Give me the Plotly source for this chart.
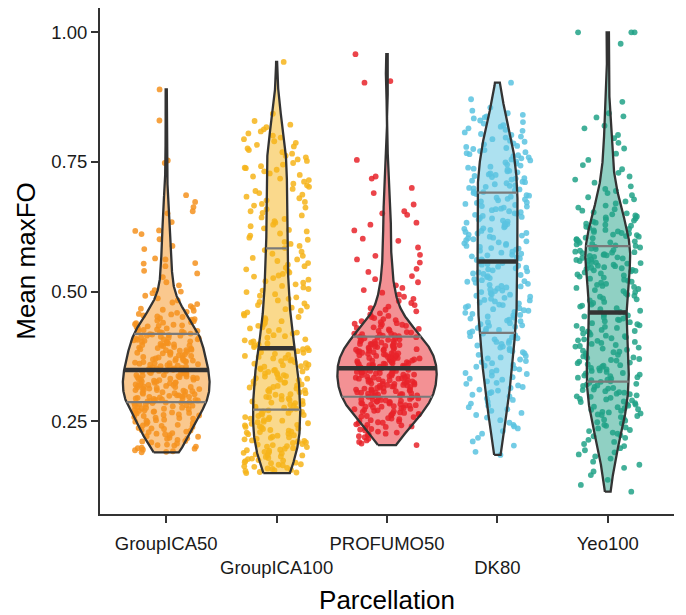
import numpy as np
import plotly.graph_objects as go

# ---------------- data ----------------
categories = ["GroupICA50", "GroupICA100", "PROFUMO50", "DK80", "Yeo100"]
tick_labels = ["GroupICA50", "<br>GroupICA100", "PROFUMO50", "<br>DK80", "Yeo100"]
y_tick_values = [0.25, 0.50, 0.75, 1.00]
y_tick_labels = ["0.25", "0.50", "0.75", "1.00"]

groupica50 = [
    0.190, 0.191, 0.192, 0.194, 0.195, 0.197, 0.198, 0.199, 0.201, 0.203, 0.204, 0.205, 0.207, 0.209,
    0.211, 0.212, 0.214, 0.216, 0.217, 0.218, 0.220, 0.221, 0.223, 0.225, 0.226, 0.227, 0.229,
    0.230, 0.232, 0.233, 0.235, 0.236, 0.237, 0.239, 0.241, 0.242, 0.243, 0.245, 0.246, 0.248, 0.249,
    0.251, 0.252, 0.253, 0.255, 0.256, 0.257, 0.258, 0.260, 0.261, 0.262, 0.263, 0.265, 0.266, 0.266, 0.267, 0.268, 0.269,
    0.270, 0.271, 0.272, 0.273, 0.274, 0.275, 0.276, 0.276, 0.277, 0.279, 0.280, 0.280, 0.281, 0.282, 0.283, 0.284,
    0.285, 0.286, 0.286, 0.287, 0.288, 0.289, 0.289,
    0.290, 0.291, 0.291, 0.292, 0.293, 0.294, 0.294, 0.295, 0.296, 0.297, 0.297, 0.298, 0.299, 0.300, 0.300,
    0.301, 0.302, 0.303, 0.304, 0.305, 0.306, 0.307, 0.308, 0.309,
    0.310, 0.310, 0.311, 0.312, 0.313, 0.313, 0.314, 0.315, 0.316, 0.316, 0.317, 0.318, 0.319, 0.320, 0.320,
    0.321, 0.322, 0.323, 0.324, 0.324, 0.325, 0.326, 0.327, 0.328, 0.329,
    0.330, 0.331, 0.331, 0.332, 0.333, 0.334, 0.335, 0.335, 0.336, 0.337, 0.338, 0.339, 0.339, 0.340, 0.341,
    0.342, 0.343, 0.343, 0.344, 0.345, 0.346, 0.347, 0.347, 0.348, 0.349,
    0.350, 0.351, 0.352, 0.352, 0.353, 0.354, 0.355, 0.356, 0.357, 0.357, 0.358, 0.359, 0.360, 0.361, 0.362,
    0.362, 0.363, 0.364, 0.365, 0.366, 0.367, 0.367, 0.368, 0.369,
    0.370, 0.371, 0.372, 0.373, 0.374, 0.376, 0.377, 0.377, 0.378, 0.379, 0.381, 0.382, 0.382, 0.383, 0.384,
    0.386, 0.387, 0.387, 0.388, 0.389,
    0.390, 0.391, 0.392, 0.393, 0.395, 0.396, 0.396, 0.397, 0.398, 0.399, 0.400, 0.401, 0.403, 0.403, 0.404,
    0.405, 0.406, 0.407, 0.408, 0.408, 0.409,
    0.410, 0.411, 0.412, 0.413, 0.415, 0.415, 0.416, 0.417, 0.418, 0.419, 0.421, 0.421, 0.422, 0.423, 0.424,
    0.425, 0.426, 0.427, 0.429,
    0.430, 0.431, 0.433, 0.434, 0.435, 0.436, 0.437, 0.439, 0.440, 0.441, 0.443, 0.444, 0.446, 0.447, 0.449,
    0.451, 0.452, 0.454, 0.456, 0.457, 0.459, 0.461, 0.463, 0.465, 0.467, 0.469,
    0.472, 0.476, 0.479, 0.483, 0.487,
    0.492, 0.497, 0.500, 0.503,
    0.512, 0.518, 0.528, 0.535, 0.540, 0.549,
    0.554, 0.555, 0.562, 0.564, 0.582, 0.588,
    0.601, 0.611, 0.617, 0.618, 0.634,
    0.651, 0.655, 0.663, 0.673, 0.686,
    0.748, 0.753, 0.830, 0.890,
]

groupica100 = [
    0.150, 0.151, 0.152, 0.154, 0.155, 0.156, 0.158, 0.159, 0.160, 0.162, 0.163, 0.165, 0.166, 0.167, 0.169,
    0.170, 0.171, 0.173, 0.174, 0.175, 0.177, 0.178, 0.179, 0.181, 0.182, 0.184, 0.185, 0.186, 0.188, 0.189,
    0.190, 0.191, 0.193, 0.194, 0.195, 0.197, 0.198, 0.200, 0.201, 0.202, 0.204, 0.205, 0.206, 0.208, 0.209,
    0.211, 0.212, 0.213, 0.215, 0.216, 0.218, 0.219, 0.220, 0.222, 0.223, 0.225, 0.226, 0.228, 0.229,
    0.230, 0.232, 0.233, 0.235, 0.236, 0.238, 0.239, 0.240, 0.242, 0.243, 0.245, 0.246, 0.248, 0.249,
    0.251, 0.252, 0.254, 0.255, 0.257, 0.258, 0.260, 0.262, 0.263, 0.265, 0.266, 0.268, 0.269,
    0.271, 0.272, 0.274, 0.276, 0.277, 0.278, 0.280, 0.282, 0.283, 0.285, 0.286, 0.288, 0.289,
    0.291, 0.292, 0.294, 0.296, 0.297, 0.299, 0.301, 0.302, 0.304, 0.306, 0.307, 0.309,
    0.310, 0.312, 0.313, 0.315, 0.316, 0.318, 0.319, 0.321, 0.322, 0.324, 0.325, 0.327, 0.329,
    0.330, 0.332, 0.333, 0.334, 0.336, 0.337, 0.339, 0.340, 0.342, 0.343, 0.345, 0.346, 0.348, 0.349,
    0.350, 0.352, 0.353, 0.355, 0.356, 0.358, 0.359, 0.361, 0.362, 0.364, 0.366, 0.367, 0.369,
    0.371, 0.372, 0.374, 0.376, 0.378, 0.380, 0.382, 0.383, 0.385, 0.387, 0.389,
    0.391, 0.393, 0.396, 0.398, 0.400, 0.402, 0.404, 0.406, 0.408,
    0.411, 0.414, 0.416, 0.419, 0.421, 0.424, 0.426, 0.429,
    0.431, 0.434, 0.437, 0.440, 0.443, 0.446, 0.449,
    0.451, 0.454, 0.457, 0.460, 0.463, 0.466, 0.469,
    0.471, 0.474, 0.477, 0.480, 0.483, 0.486, 0.489,
    0.492, 0.495, 0.499, 0.502, 0.505, 0.508,
    0.511, 0.514, 0.517, 0.520, 0.523, 0.526, 0.529,
    0.531, 0.534, 0.537, 0.540, 0.543, 0.546, 0.549,
    0.552, 0.555, 0.559, 0.562, 0.565, 0.569,
    0.573, 0.577, 0.580, 0.584, 0.588,
    0.592, 0.596, 0.600, 0.604, 0.608,
    0.612, 0.616, 0.619, 0.622, 0.626, 0.629, 0.633, 0.636, 0.640, 0.643, 0.647,
    0.652, 0.655, 0.659, 0.662, 0.666, 0.669, 0.673, 0.676, 0.680, 0.683, 0.687, 0.690, 0.694, 0.698,
    0.702, 0.705, 0.708, 0.712, 0.715, 0.718, 0.722, 0.725, 0.728, 0.732, 0.735, 0.738, 0.739, 0.742, 0.745, 0.748,
    0.752, 0.755, 0.759, 0.762, 0.766, 0.769, 0.773, 0.776, 0.780, 0.783, 0.787, 0.790, 0.794, 0.797,
    0.801, 0.805, 0.809, 0.813, 0.817, 0.822, 0.829, 0.843,
    0.943,
]

profumo50 = [
    0.204, 0.207, 0.210, 0.213, 0.216, 0.219,
    0.221, 0.223, 0.225, 0.226, 0.228, 0.230, 0.232, 0.234, 0.235, 0.237, 0.239,
    0.240, 0.242, 0.243, 0.244, 0.246, 0.247, 0.248, 0.250, 0.251, 0.252, 0.254, 0.255, 0.256, 0.258, 0.259,
    0.260, 0.261, 0.262, 0.263, 0.264, 0.265, 0.266, 0.267, 0.268, 0.269, 0.270, 0.271, 0.272, 0.273, 0.274,
    0.275, 0.276, 0.277, 0.278, 0.278, 0.279,
    0.280, 0.281, 0.281, 0.282, 0.283, 0.284, 0.284, 0.285, 0.286, 0.287, 0.288, 0.288, 0.289, 0.290, 0.291,
    0.292, 0.292, 0.293, 0.294, 0.295, 0.296, 0.296, 0.297, 0.298, 0.299,
    0.300, 0.300, 0.301, 0.302, 0.302, 0.303, 0.304, 0.305, 0.305, 0.306, 0.307, 0.308, 0.308, 0.309, 0.310,
    0.311, 0.311, 0.312, 0.313, 0.314, 0.314, 0.315, 0.316, 0.317, 0.317, 0.318, 0.319,
    0.320, 0.320, 0.321, 0.322, 0.322, 0.323, 0.324, 0.324, 0.325, 0.326, 0.327, 0.327, 0.328, 0.329, 0.329,
    0.330, 0.331, 0.332, 0.332, 0.333, 0.334, 0.334, 0.335, 0.336, 0.337, 0.337, 0.338, 0.339,
    0.340, 0.340, 0.341, 0.342, 0.342, 0.343, 0.344, 0.344, 0.345, 0.346, 0.347, 0.347, 0.348, 0.349, 0.349,
    0.350, 0.351, 0.352, 0.352, 0.353, 0.354, 0.354, 0.355, 0.356, 0.357, 0.357, 0.358, 0.359,
    0.360, 0.360, 0.361, 0.362, 0.362, 0.363, 0.364, 0.364, 0.365, 0.366, 0.367, 0.367, 0.368, 0.369, 0.369,
    0.370, 0.371, 0.372, 0.372, 0.373, 0.374, 0.374, 0.375, 0.376, 0.377, 0.377, 0.378, 0.379,
    0.380, 0.381, 0.381, 0.382, 0.383, 0.384, 0.384, 0.385, 0.386, 0.387, 0.388, 0.388, 0.389,
    0.390, 0.391, 0.392, 0.392, 0.393, 0.394, 0.395, 0.396, 0.396, 0.397, 0.398, 0.399, 0.399,
    0.400, 0.401, 0.402, 0.403, 0.404, 0.405, 0.406, 0.407, 0.408, 0.409, 0.410,
    0.411, 0.412, 0.413, 0.414, 0.415, 0.416, 0.417, 0.418, 0.419, 0.419,
    0.421, 0.422, 0.424, 0.425, 0.427, 0.428, 0.430, 0.431, 0.433, 0.434, 0.436, 0.437, 0.438, 0.439,
    0.441, 0.443, 0.445, 0.447, 0.449, 0.451, 0.453, 0.456, 0.458,
    0.462, 0.465, 0.468, 0.471, 0.474, 0.478,
    0.482, 0.486, 0.490, 0.494, 0.498,
    0.503, 0.507, 0.512, 0.518, 0.524, 0.530, 0.538, 0.544,
    0.556, 0.562, 0.569, 0.571, 0.585, 0.598,
    0.602, 0.618, 0.629, 0.633, 0.648, 0.651,
    0.655, 0.668, 0.690, 0.700, 0.718,
    0.722, 0.754, 0.903, 0.906, 0.958,
]

dk80 = [
    0.185, 0.191, 0.203, 0.211, 0.218,
    0.226, 0.231, 0.236, 0.240, 0.243, 0.247, 0.252, 0.257,
    0.262, 0.266, 0.270, 0.273, 0.277, 0.280, 0.284, 0.287, 0.291, 0.294, 0.298,
    0.301, 0.304, 0.306, 0.309, 0.311, 0.314, 0.316, 0.319, 0.322, 0.324, 0.327, 0.330, 0.332, 0.335, 0.338,
    0.341, 0.343, 0.345, 0.348, 0.350, 0.352, 0.355, 0.357, 0.359, 0.362, 0.364, 0.366, 0.369, 0.371, 0.373,
    0.376, 0.378,
    0.381, 0.383, 0.385, 0.387, 0.390, 0.392, 0.394, 0.396, 0.399, 0.401, 0.403, 0.405, 0.408, 0.410, 0.412,
    0.414, 0.416, 0.419,
    0.421, 0.423, 0.424, 0.426, 0.428, 0.430, 0.432, 0.434, 0.435, 0.437, 0.439, 0.441, 0.443, 0.444, 0.446,
    0.448, 0.450, 0.452, 0.454, 0.455, 0.457, 0.459,
    0.461, 0.463, 0.464, 0.466, 0.468, 0.470, 0.472, 0.474, 0.475, 0.477, 0.479, 0.481, 0.483, 0.484, 0.486,
    0.488, 0.490, 0.492, 0.494, 0.495, 0.497, 0.499,
    0.501, 0.502, 0.504, 0.506, 0.508, 0.510, 0.511, 0.513, 0.515, 0.517, 0.519, 0.520, 0.522, 0.524, 0.526,
    0.528, 0.530, 0.532, 0.534, 0.535, 0.537, 0.539,
    0.541, 0.543, 0.545, 0.546, 0.548, 0.550, 0.552, 0.553, 0.555, 0.557, 0.559, 0.561, 0.562, 0.564, 0.566,
    0.568, 0.570, 0.571, 0.573, 0.575, 0.577, 0.579,
    0.581, 0.583, 0.584, 0.586, 0.588, 0.590, 0.592, 0.593, 0.595, 0.597, 0.599, 0.601, 0.603, 0.604, 0.606,
    0.608, 0.610, 0.612, 0.613, 0.615, 0.617, 0.619,
    0.621, 0.622, 0.624, 0.626, 0.628, 0.630, 0.631, 0.633, 0.635, 0.637, 0.639, 0.641, 0.642, 0.644, 0.646,
    0.648, 0.650, 0.651, 0.653, 0.655, 0.657, 0.659,
    0.660, 0.662, 0.664, 0.665, 0.667, 0.669, 0.671, 0.672, 0.674, 0.676, 0.678, 0.679, 0.681, 0.683, 0.685,
    0.686, 0.688, 0.690, 0.692, 0.693, 0.695, 0.697, 0.699,
    0.700, 0.702, 0.704, 0.705, 0.707, 0.709, 0.711, 0.712, 0.714, 0.716, 0.718, 0.719, 0.721, 0.723, 0.725,
    0.726, 0.728, 0.730, 0.732, 0.733, 0.735, 0.737, 0.739,
    0.741, 0.743, 0.745, 0.747, 0.749, 0.751, 0.753, 0.755, 0.757, 0.759, 0.761, 0.763, 0.765, 0.767, 0.769,
    0.771, 0.773, 0.775, 0.777, 0.779,
    0.781, 0.784, 0.786, 0.789, 0.791, 0.794, 0.797, 0.799, 0.802, 0.804, 0.807, 0.810, 0.812, 0.815, 0.818,
    0.821, 0.824, 0.827, 0.830, 0.834, 0.836, 0.838, 0.841, 0.844, 0.849, 0.855,
    0.871, 0.903,
]

yeo100 = [
    0.114, 0.127, 0.137,
    0.146, 0.153, 0.160, 0.166, 0.172, 0.178,
    0.182, 0.186, 0.190, 0.194, 0.198, 0.202, 0.206, 0.210, 0.214, 0.218,
    0.221, 0.223, 0.226, 0.228, 0.231, 0.233, 0.236, 0.238, 0.241, 0.243, 0.246, 0.248, 0.251, 0.253, 0.256,
    0.258,
    0.260, 0.262, 0.263, 0.265, 0.267, 0.268, 0.270, 0.272, 0.273, 0.275, 0.277, 0.278, 0.280, 0.282, 0.283,
    0.285, 0.287, 0.288, 0.290, 0.292, 0.293, 0.295, 0.297, 0.298,
    0.300, 0.302, 0.303, 0.305, 0.306, 0.308, 0.310, 0.311, 0.313, 0.314, 0.316, 0.318, 0.319, 0.321, 0.322,
    0.324, 0.326, 0.327, 0.329, 0.330, 0.332, 0.334, 0.335, 0.337, 0.338,
    0.340, 0.342, 0.343, 0.345, 0.347, 0.348, 0.350, 0.352, 0.353, 0.355, 0.357, 0.358, 0.360, 0.362, 0.363,
    0.365, 0.367, 0.368, 0.370, 0.372, 0.373, 0.375, 0.377, 0.378,
    0.381, 0.383, 0.384, 0.386, 0.388, 0.390, 0.392, 0.394, 0.395, 0.397, 0.399, 0.401, 0.403, 0.405, 0.406,
    0.408, 0.410, 0.412, 0.414, 0.415, 0.417, 0.419,
    0.421, 0.423, 0.424, 0.426, 0.428, 0.430, 0.432, 0.434, 0.435, 0.437, 0.439, 0.441, 0.443, 0.445, 0.446,
    0.448, 0.450, 0.452, 0.454, 0.455, 0.457, 0.459,
    0.461, 0.463, 0.466, 0.468, 0.471, 0.473, 0.475, 0.478, 0.480, 0.483, 0.485, 0.487, 0.490, 0.492, 0.494,
    0.497, 0.499,
    0.501, 0.503, 0.505, 0.507, 0.509, 0.511, 0.513, 0.515, 0.517, 0.519, 0.521, 0.523, 0.525, 0.527, 0.529,
    0.531, 0.533, 0.535, 0.537, 0.539,
    0.540, 0.541, 0.542, 0.544, 0.545, 0.546, 0.547, 0.549, 0.550, 0.551, 0.552, 0.554, 0.555, 0.556, 0.557,
    0.559, 0.560, 0.561, 0.562, 0.564, 0.565, 0.566, 0.567, 0.569, 0.570, 0.571, 0.572, 0.574, 0.575, 0.576,
    0.577, 0.579,
    0.580, 0.582, 0.583, 0.585, 0.586, 0.588, 0.589, 0.591, 0.592, 0.594, 0.595, 0.597, 0.598, 0.600, 0.601,
    0.603, 0.604, 0.606, 0.607, 0.609, 0.610, 0.612, 0.613, 0.615, 0.616, 0.618, 0.619,
    0.621, 0.623, 0.625, 0.627, 0.629, 0.631, 0.633, 0.635, 0.637, 0.639, 0.641, 0.643, 0.645, 0.647, 0.649,
    0.651, 0.653, 0.656, 0.659,
    0.662, 0.666, 0.670, 0.674, 0.678, 0.682, 0.686, 0.690, 0.694, 0.698,
    0.703, 0.710, 0.716, 0.722, 0.729, 0.736, 0.744,
    0.754, 0.766, 0.776, 0.787, 0.796,
    0.802, 0.815, 0.820, 0.836, 0.838, 0.844,
    0.866,
    0.978, 1.000, 1.000, 1.000,
]

point_colors = ["#F5921E", "#F6B41A", "#E8232A", "#5BC3E1", "#21A287"]
fill_colors = ["rgba(245,146,30,0.5)", "rgba(246,180,26,0.5)", "rgba(232,35,42,0.5)",
               "rgba(91,195,225,0.5)", "rgba(33,162,135,0.5)"]

series = [groupica50, groupica100, profumo50, dk80, yeo100]

# ---------------- violin geometry (ggplot-like: nrd0 KDE, trimmed, scale="area") ----------------
def nrd0(x):
    x = np.asarray(x, dtype=float)
    sd = np.std(x, ddof=1)
    q75, q25 = np.percentile(x, [75, 25])
    lo = min(sd, (q75 - q25) / 1.34)
    return 0.9 * lo * len(x) ** -0.2


def kde(x, n=512):
    x = np.asarray(x, dtype=float)
    bw = nrd0(x)
    grid = np.linspace(x.min(), x.max(), n)
    z = (grid[:, None] - x[None, :]) / bw
    dens = np.exp(-0.5 * z ** 2).sum(axis=1) / (len(x) * bw * np.sqrt(2 * np.pi))
    return grid, dens


kdes = [kde(s) for s in series]
max_dens = max(d.max() for _, d in kdes)
violin_width = 0.9

fig = go.Figure()
rng = np.random.default_rng(11)  # horizontal jitter of the points only

for i, (vals, (grid, dens)) in enumerate(zip(series, kdes)):
    xc = i + 1
    hw = violin_width / 2 * dens / max_dens
    px = np.concatenate([xc - hw, (xc + hw)[::-1], [xc - hw[0]]])
    py = np.concatenate([grid, grid[::-1], [grid[0]]])

    # fill
    fig.add_trace(go.Scatter(x=px, y=py, mode="lines", fill="toself",
                             fillcolor=fill_colors[i], line=dict(width=0),
                             hoverinfo="skip", showlegend=False))
    # jittered points
    jit = rng.uniform(-0.3, 0.3, len(vals))
    fig.add_trace(go.Scatter(x=xc + jit, y=vals, mode="markers",
                             marker=dict(size=5.8, color=point_colors[i], opacity=0.85,
                                         line=dict(width=0)),
                             showlegend=False, name=categories[i]))
    # outline
    fig.add_trace(go.Scatter(x=px, y=py, mode="lines",
                             line=dict(color="#333333", width=2.3),
                             hoverinfo="skip", showlegend=False))
    # quantile lines from density CDF
    cdf = np.cumsum(dens) / dens.sum()
    for q, col, w in [(0.25, "#7A7A7A", 2.2), (0.75, "#7A7A7A", 2.2), (0.5, "#333333", 4.5)]:
        yq = float(np.interp(q, cdf, grid))
        wq = float(np.interp(yq, grid, hw))
        fig.add_trace(go.Scatter(x=[xc - wq, xc + wq], y=[yq, yq], mode="lines",
                                 line=dict(color=col, width=w),
                                 hoverinfo="skip", showlegend=False))

font_family = "Liberation Sans, Arial, sans-serif"
axis_common = dict(showgrid=False, zeroline=False, showline=True, linecolor="#333333",
                   linewidth=2, ticks="outside", ticklen=7, tickwidth=2, tickcolor="#333333",
                   tickangle=0, automargin=False,
                   tickfont=dict(family=font_family, size=18.5, color="#1a1a1a"),
                   title_font=dict(family=font_family, size=26, color="#000000"))

fig.update_layout(
    width=686, height=615,
    margin=dict(l=100, r=12, t=8, b=101),
    plot_bgcolor="white", paper_bgcolor="white",
    xaxis=dict(range=[0.4, 5.6], tickmode="array", tickvals=[1, 2, 3, 4, 5],
               ticktext=tick_labels, ticklabelstandoff=5,
               title=dict(text="Parcellation", standoff=14),
               **axis_common),
    yaxis=dict(range=[0.071, 1.047], tickmode="array", tickvals=y_tick_values,
               ticktext=y_tick_labels, title=dict(text="Mean maxFO", standoff=8),
               **axis_common),
)

fig.write_html("out.html")
